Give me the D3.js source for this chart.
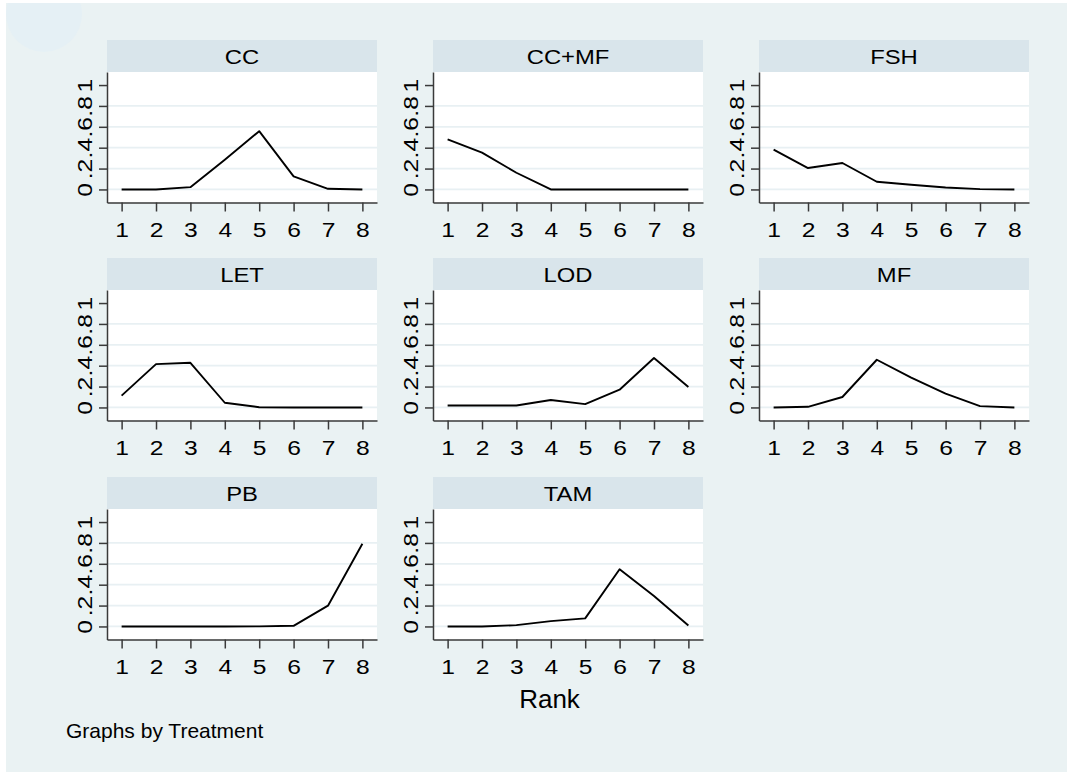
<!DOCTYPE html>
<html>
<head>
<meta charset="utf-8">
<script src="https://cdn.jsdelivr.net/npm/d3@7"></script>
<style>
  html, body { margin: 0; padding: 0; background: #ffffff; }
  svg { display: block; }
  text { font-family: "Liberation Sans", Arial, sans-serif; fill: #000; }
</style>
</head>
<body>
<svg id="chart" width="1067" height="772"></svg>
<script>
// Rank positions shared by every panel
const ranks = [1, 2, 3, 4, 5, 6, 7, 8];

// Treatment panels, in display order
const treatments = ["CC", "CC+MF", "FSH", "LET", "LOD", "MF", "PB", "TAM"];

// Share of each rank, per treatment
const ccValues   = [0.000, 0.000, 0.022, 0.285, 0.558, 0.125, 0.006, 0.000];
const ccmfValues = [0.480, 0.353, 0.160, 0.000, 0.000, 0.000, 0.000, 0.000];
const fshValues  = [0.381, 0.205, 0.253, 0.074, 0.045, 0.019, 0.003, 0.000];
const letValues  = [0.113, 0.415, 0.428, 0.045, 0.002, 0.000, 0.000, 0.000];
const lodValues  = [0.019, 0.019, 0.019, 0.071, 0.032, 0.170, 0.473, 0.196];
const mfValues   = [0.000, 0.006, 0.100, 0.457, 0.286, 0.132, 0.013, 0.000];
const pbValues   = [0.000, 0.000, 0.000, 0.000, 0.001, 0.006, 0.199, 0.792];
const tamValues  = [0.000, 0.000, 0.013, 0.051, 0.077, 0.548, 0.292, 0.010];

const seriesByTreatment = {
  "CC": ccValues, "CC+MF": ccmfValues, "FSH": fshValues, "LET": letValues,
  "LOD": lodValues, "MF": mfValues, "PB": pbValues, "TAM": tamValues
};

// Axis ticks
const yTickValues = [0, 0.2, 0.4, 0.6, 0.8, 1];
const yTickLabels = ["0", ".2", ".4", ".6", ".8", "1"];
const gridValues  = [0, 0.2, 0.4, 0.6, 0.8];

const xTitle = "Rank";
const noteText = "Graphs by Treatment";

// ---- layout ----
const W = 1067, H = 772;
const colLefts = [107, 433, 759];
const rowTops = [40, 258, 477];     // top of each header strip
const panelW = 270;
const stripH = 32;
const plotH = 130.5;
const tickFont = 20.5, tickStretch = 1.2;

const svg = d3.select("#chart");

// outer graph region
svg.append("rect").attr("x", 6).attr("y", 3).attr("width", W - 6).attr("height", H - 3)
  .attr("fill", "#eaf2f3");
svg.append("clipPath").attr("id", "bgclip")
  .append("rect").attr("x", 6).attr("y", 3).attr("width", W - 6).attr("height", H - 3);
svg.append("circle").attr("cx", 44).attr("cy", 14).attr("r", 38)
  .attr("fill", "#e5f0f5").attr("clip-path", "url(#bgclip)");

treatments.forEach((name, i) => {
  const col = i % 3, row = Math.floor(i / 3);
  const left = colLefts[col];
  const stripTop = rowTops[row];
  const top = stripTop + stripH;
  const bottom = top + plotH;
  const cx = left + panelW / 2;

  const x = d3.scaleLinear().domain([0.575, 8.425]).range([left, left + panelW]);
  const y = d3.scaleLinear().domain([-0.125, 1.125]).range([bottom, top]);

  const g = svg.append("g").attr("class", "panel");

  // header strip with treatment name
  g.append("rect").attr("x", left).attr("y", stripTop).attr("width", panelW).attr("height", stripH)
    .attr("fill", "#d9e5eb");
  g.append("text").attr("text-anchor", "middle").attr("font-size", 20)
    .attr("transform", `translate(${cx},${stripTop + 23.5}) scale(1.19,1)`)
    .text(name);

  // plot region
  g.append("rect").attr("x", left).attr("y", top).attr("width", panelW).attr("height", plotH)
    .attr("fill", "#ffffff");

  // horizontal grid lines
  g.selectAll("line.grid").data(gridValues).join("line").attr("class", "grid")
    .attr("x1", left).attr("x2", left + panelW)
    .attr("y1", d => y(d)).attr("y2", d => y(d))
    .attr("stroke", "#e8f0f3").attr("stroke-width", 1.7);

  // series line
  const line = d3.line().x((d, k) => x(ranks[k])).y(d => y(d));
  g.append("path").datum(seriesByTreatment[name]).attr("d", line)
    .attr("fill", "none").attr("stroke", "#000").attr("stroke-width", 1.9)
    .attr("stroke-linejoin", "round");

  // y axis with rotated labels
  const yAxis = d3.axisLeft(y).tickValues(yTickValues)
    .tickFormat((d, k) => yTickLabels[k]).tickSize(8).tickSizeOuter(0);
  const ya = g.append("g").attr("transform", `translate(${left},0)`).call(yAxis);
  ya.selectAll("path.domain, line").attr("stroke", "#3a3a3a").attr("stroke-width", 1.5);
  ya.selectAll("text").attr("x", null).attr("dy", null)
    .attr("text-anchor", "middle").attr("font-size", tickFont)
    .attr("font-family", "Liberation Sans, Arial, sans-serif").attr("fill", "#000")
    .attr("transform", `translate(-15.5,0) rotate(-90) scale(${tickStretch},1)`);

  // x axis
  const xAxis = d3.axisBottom(x).tickValues(ranks).tickFormat(d3.format("d"))
    .tickSize(9).tickSizeOuter(0);
  const xa = g.append("g").attr("transform", `translate(0,${bottom})`).call(xAxis);
  xa.selectAll("path.domain, line").attr("stroke", "#3a3a3a").attr("stroke-width", 1.5);
  xa.selectAll("text").attr("x", null).attr("y", null).attr("dy", null)
    .attr("font-size", tickFont)
    .attr("font-family", "Liberation Sans, Arial, sans-serif").attr("fill", "#000")
    .attr("transform", `translate(0,34.2) scale(${tickStretch},1)`);
});

// x title and note
svg.append("text").attr("x", 549.5).attr("y", 708).attr("text-anchor", "middle")
  .attr("font-size", 26).text(xTitle);
svg.append("text").attr("x", 66).attr("y", 737.5).attr("font-size", 21).text(noteText);
</script>
</body>
</html>
